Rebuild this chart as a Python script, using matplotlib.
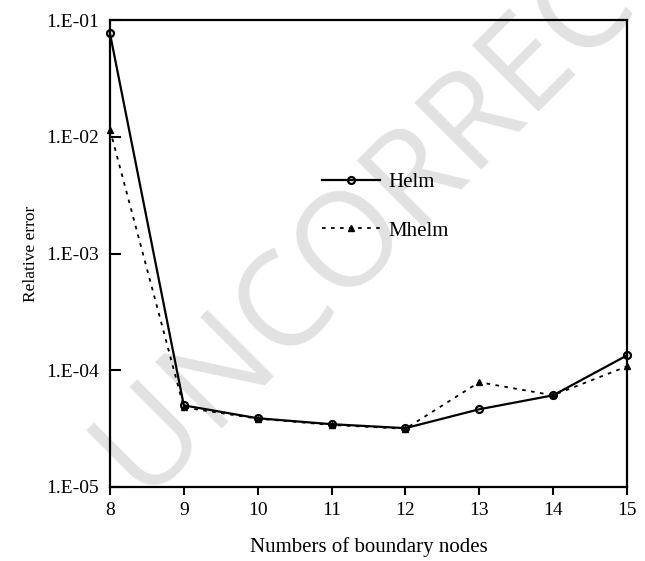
import matplotlib
matplotlib.use("Agg")
import matplotlib.pyplot as plt

# data
nodes = [8, 9, 10, 11, 12, 13, 14, 15]
helm = [7.7e-2, 5.0e-5, 3.88e-5, 3.45e-5, 3.19e-5, 4.63e-5, 6.1e-5, 1.34e-4]
mhelm = [1.15e-2, 4.8e-5, 3.85e-5, 3.4e-5, 3.15e-5, 7.9e-5, 6.1e-5, 1.08e-4]
ytick_vals = [1e-5, 1e-4, 1e-3, 1e-2, 1e-1]
ytick_labels = ["1.E-05", "1.E-04", "1.E-03", "1.E-02", "1.E-01"]

plt.rcParams["font.family"] = ["Liberation Serif", "DejaVu Serif"]

fig = plt.figure(figsize=(6.45, 5.61), dpi=100)
ax = fig.add_axes([0.1705, 0.132, 0.8015, 0.832])

# watermark behind the plot (pixel coords, origin bottom-left)
fig.text(145, 56, "UNCORRECTED PROOF", transform=None, fontsize=95,
         family="Open Sans", color="#e2e2e2", rotation=45,
         rotation_mode="anchor", ha="left", va="baseline", zorder=-1)
ax.patch.set_alpha(0)

ax.plot(nodes, helm, color="black", linewidth=1.6, marker="o", markersize=5,
        markerfacecolor="none", markeredgewidth=1.6, label="Helm", clip_on=False)
ax.plot(nodes, mhelm, color="black", linewidth=1.3, linestyle=(0, (2, 3)),
        marker="^", markersize=5, label="Mhelm", clip_on=False)

ax.set_yscale("log")
ax.set_xlim(8, 15)
ax.set_ylim(1e-5, 1e-1)
ax.set_xticks(nodes)
ax.set_yticks(ytick_vals)
ax.set_yticklabels(ytick_labels)
ax.minorticks_off()

ax.tick_params(axis="y", direction="in", length=8, width=1.5, labelsize=14, pad=8)
ax.tick_params(axis="x", direction="out", length=6, width=1.5, labelsize=14, pad=5)
for s in ax.spines.values():
    s.set_linewidth(1.6)

ax.set_xlabel("Numbers of boundary nodes", fontsize=15, labelpad=13)
ax.set_ylabel("Relative error", fontsize=12.5, labelpad=5)

ax.legend(loc="upper left", bbox_to_anchor=(0.373, 0.714), frameon=False,
          fontsize=15, handlelength=2.8, labelspacing=1.4, handletextpad=0.4)

fig.savefig("out.png")
